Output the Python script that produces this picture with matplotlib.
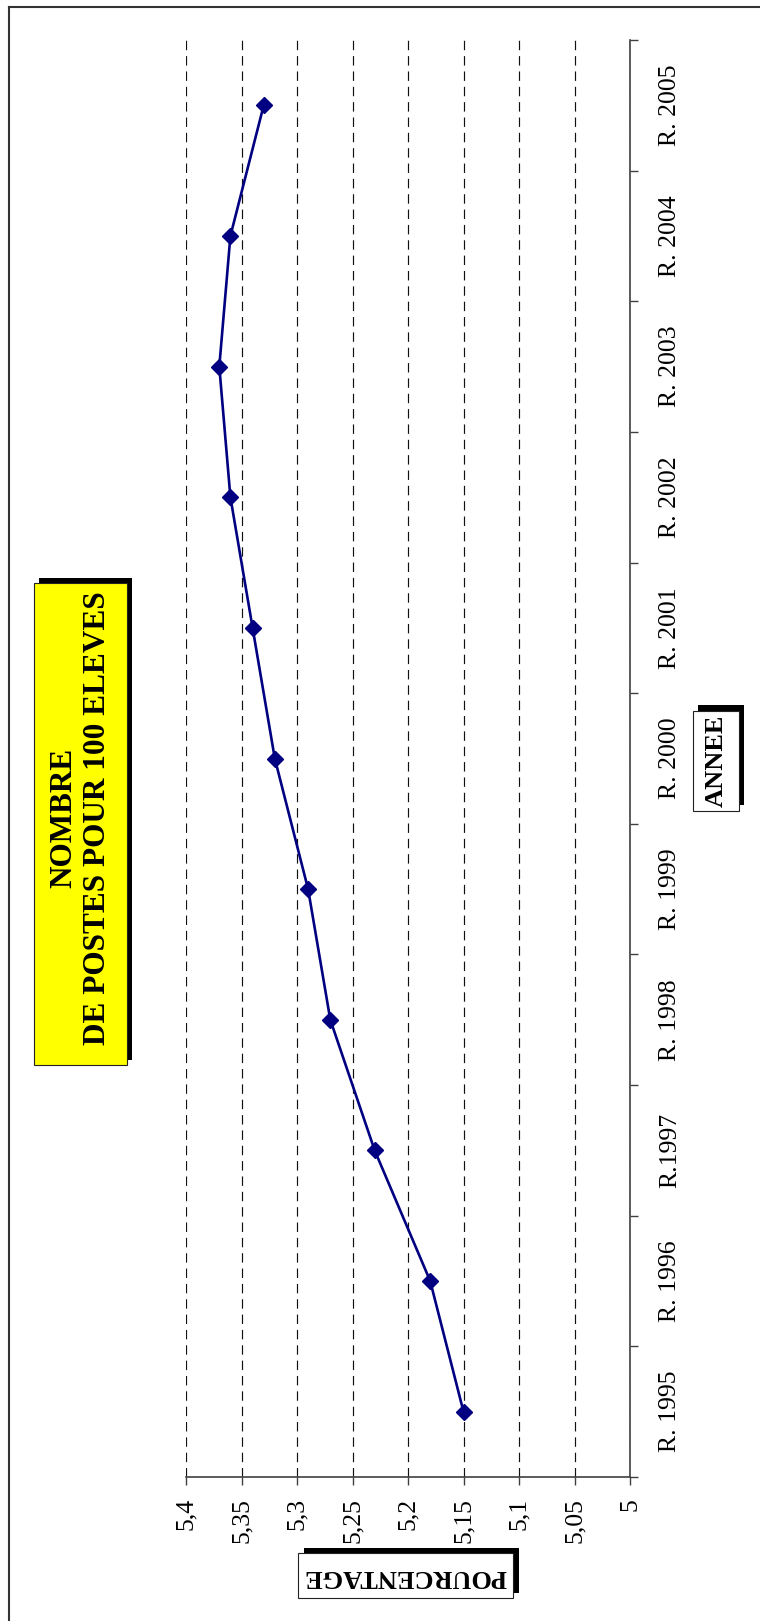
import matplotlib
matplotlib.use("Agg")
import matplotlib.pyplot as plt
from matplotlib.patches import Rectangle
from matplotlib.lines import Line2D

# donnees
annees = ["R. 1995", "R. 1996", "R.1997", "R. 1998", "R. 1999", "R. 2000",
          "R. 2001", "R. 2002", "R. 2003", "R. 2004", "R. 2005"]
postes = [5.15, 5.18, 5.23, 5.27, 5.29, 5.32, 5.34, 5.36, 5.37, 5.36, 5.33]
graduations = [5.0, 5.05, 5.1, 5.15, 5.2, 5.25, 5.3, 5.35, 5.4]
etiquettes = ["5", "5,05", "5,1", "5,15", "5,2", "5,25", "5,3", "5,35", "5,4"]

plt.rcParams['font.family'] = ['Liberation Serif', 'DejaVu Serif']

W, H = 760, 1621
fig = plt.figure(figsize=(W / 100, H / 100), dpi=100)


def fx(px):
    return px / W


def fy(py):
    return 1 - py / H


# zone du graphique (le graphique est tourne de 90 degres)
ax = fig.add_axes([fx(186), fy(1477), fx(630) - fx(186), fy(40) - fy(1477)])

pos = [i + 0.5 for i in range(len(annees))]
ax.plot(postes, pos, color="#000080", lw=1.9, marker="D", ms=8.5,
        markerfacecolor="#000080", markeredgecolor="#000080", zorder=3)

ax.set_xlim(5.4, 5.0)
ax.set_ylim(0, len(annees))

ax.set_xticks(graduations)
ax.set_xticklabels(etiquettes, rotation=90, fontsize=18.5)
ax.tick_params(axis="x", direction="out", length=6, width=1, color="#404040", pad=9)

ax.yaxis.tick_right()
ax.set_yticks(range(len(annees) + 1))
ax.set_yticklabels([])
ax.set_yticks(pos, minor=True)
ax.set_yticklabels(annees, minor=True, rotation=90, fontsize=18.5, va="center")
ax.tick_params(axis="y", which="major", direction="out", length=6, width=1, color="#404040")
ax.tick_params(axis="y", which="minor", length=0, pad=21)

ax.grid(axis="x", color="#111111", lw=0.85, linestyle=(0, (8, 5)))
ax.set_axisbelow(True)

for s in ["top", "left"]:
    ax.spines[s].set_visible(False)
for s in ["bottom", "right"]:
    ax.spines[s].set_color("#404040")
    ax.spines[s].set_linewidth(1.2)

# cadre du graphique (haut et gauche)
fig.add_artist(Line2D([fx(9), 1], [fy(7), fy(7)], transform=fig.transFigure,
                      color="#333333", lw=1.5))
fig.add_artist(Line2D([fx(9), fx(9)], [fy(7), 0], transform=fig.transFigure,
                      color="#333333", lw=1.5))


def boite(x0, y0, x1, y1, couleur, dx=5, dy=5):
    ombre = Rectangle((fx(x0 + dx), fy(y1 - dy)), fx(x1) - fx(x0), fy(y0) - fy(y1),
                      transform=fig.transFigure, facecolor="black", edgecolor="none")
    fond = Rectangle((fx(x0), fy(y1)), fx(x1) - fx(x0), fy(y0) - fy(y1),
                     transform=fig.transFigure, facecolor=couleur,
                     edgecolor="#222222", lw=0.8)
    fig.add_artist(ombre)
    fig.add_artist(fond)


# titre
boite(34, 583, 127, 1065, "#FFFF00")
fig.text(fx(81), fy(818), "NOMBRE\nDE POSTES POUR 100 ELEVES", rotation=90,
         ha="center", va="center", multialignment="center",
         fontsize=22.5, fontweight="bold", linespacing=1.2)

# titre de l'axe des valeurs (a l'envers)
boite(298, 1553, 513, 1598, "white", dx=6)
fig.text(fx(405), fy(1576), "POURCENTAGE", rotation=180,
         ha="center", va="center", fontsize=19, fontweight="bold")

# titre de l'axe des categories
boite(693, 711, 739, 811, "white", dy=6)
fig.text(fx(716), fy(761), "ANNEE", rotation=90,
         ha="center", va="center", fontsize=19, fontweight="bold")

fig.savefig("out.png", dpi=100)
